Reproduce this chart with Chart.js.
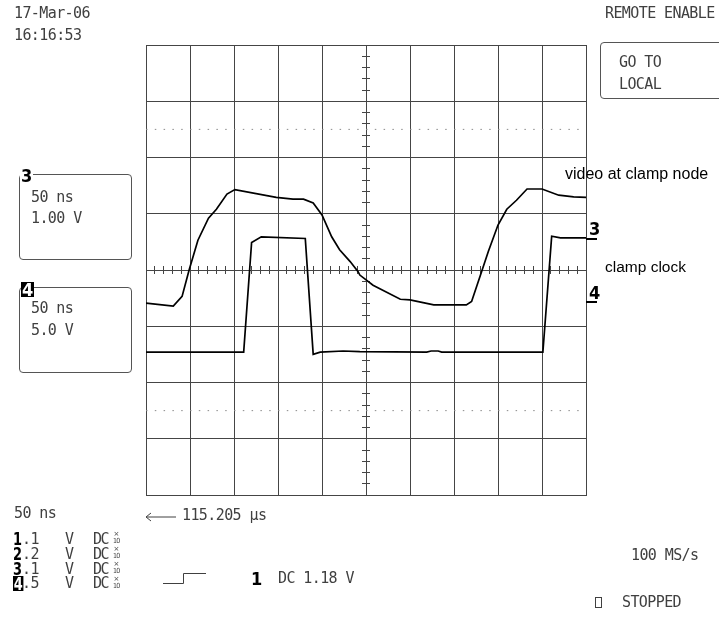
<!DOCTYPE html>
<html>
<head>
<meta charset="utf-8">
<script src="https://cdn.jsdelivr.net/npm/chart.js@4/dist/chart.umd.min.js"></script>
<style>
  html, body { margin: 0; padding: 0; background: #fff; }
  #wrap { position: relative; width: 719px; height: 619px; overflow: hidden; background: #fff; }
  #c { position: absolute; left: 0; top: 0; }
  .t { position: absolute; font-family: "DejaVu Sans Mono", monospace; font-size: 15px; line-height: 15px;
       letter-spacing: -0.6px; color: #404040; white-space: pre; }
  .b { position: absolute; font-family: "Liberation Sans Narrow", "DejaVu Sans Condensed", sans-serif; font-weight: bold;
       font-size: 18px; line-height: 14px; color: #000; white-space: pre; transform-origin: left top; }
  .n { transform: scaleX(0.8); }
  .inv { background: #000; color: #fff; padding: 0 1px; }
  .box { position: absolute; border: 1px solid #555; border-radius: 4px; }
  .ann { position: absolute; font-family: "Liberation Sans", Arial, sans-serif; color: #000; white-space: pre; }
  .xs { position: absolute; font-family: "DejaVu Sans", sans-serif; font-size: 7px; line-height: 7px; color: #404040; }
  .xn { position: absolute; font-family: "DejaVu Sans Condensed", sans-serif; font-size: 7px; line-height: 7px; color: #404040; letter-spacing: -0.8px; }
</style>
</head>
<body>
<div id="wrap">
  <canvas id="c" width="719" height="619"></canvas>

  <div class="t" style="left:14px; top:6px;">17-Mar-06</div>
  <div class="t" style="left:14px; top:28px;">16:16:53</div>
  <div class="t" style="left:605px; top:6px;">REMOTE ENABLE</div>

  <div class="box" style="left:600px; top:42px; width:124px; height:55px;"></div>
  <div class="t" style="left:619px; top:55px;">GO TO</div>
  <div class="t" style="left:619px; top:77px;">LOCAL</div>

  <div class="box" style="left:19px; top:174px; width:111px; height:84px;"></div>
  <div class="b" style="left:20px; top:168px; background:#fff; line-height:16px; padding:0 1px;">3</div>
  <div class="t" style="left:31px; top:190px;">50 ns</div>
  <div class="t" style="left:31px; top:211px;">1.00 V</div>

  <div class="box" style="left:19px; top:287px; width:111px; height:84px;"></div>
  <div class="b inv" style="left:21px; top:282px; line-height:15px;">4</div>
  <div class="t" style="left:31px; top:301px;">50 ns</div>
  <div class="t" style="left:31px; top:323px;">5.0 V</div>

  <div class="ann" style="left:565px; top:166px; font-size:16px; line-height:16px;">video at clamp node</div>
  <div class="ann" style="left:605px; top:259px; font-size:15.5px; line-height:16px;">clamp clock</div>

  <div class="b" style="left:589px; top:222px;">3</div>
  <div style="position:absolute; left:586px; top:238px; width:11px; height:2px; background:#000;"></div>
  <div class="b" style="left:589px; top:286px;">4</div>
  <div style="position:absolute; left:586px; top:301px; width:11px; height:2px; background:#000;"></div>

  <div class="t" style="left:14px; top:506px;">50 ns</div>
  <svg style="position:absolute; left:143px; top:510px;" width="36" height="14">
    <line x1="3" y1="7" x2="33" y2="7" stroke="#404040" stroke-width="1"/>
    <polyline points="8,3 3,7 8,11" fill="none" stroke="#404040" stroke-width="1"/>
  </svg>
  <div class="t" style="left:182px; top:508px;">115.205 µs</div>

  <div class="b n" style="left:13px; top:532px;">1</div>
  <div class="t" style="left:22px; top:532px;">.1</div>
  <div class="t" style="left:65px; top:532px;">V</div>
  <div class="t" style="left:93px; top:532px; letter-spacing:-1.5px;">DC</div>
  <div class="xs" style="left:113.5px; top:531px;">×</div>
  <div class="xn" style="left:113px; top:538px;">10</div>

  <div class="b n" style="left:13px; top:547px;">2</div>
  <div class="t" style="left:22px; top:547px;">.2</div>
  <div class="t" style="left:65px; top:547px;">V</div>
  <div class="t" style="left:93px; top:547px; letter-spacing:-1.5px;">DC</div>
  <div class="xs" style="left:113.5px; top:546px;">×</div>
  <div class="xn" style="left:113px; top:553px;">10</div>

  <div class="b n" style="left:13px; top:562px; text-decoration:underline;">3</div>
  <div class="t" style="left:22px; top:562px;">.1</div>
  <div class="t" style="left:65px; top:562px;">V</div>
  <div class="t" style="left:93px; top:562px; letter-spacing:-1.5px;">DC</div>
  <div class="xs" style="left:113.5px; top:561px;">×</div>
  <div class="xn" style="left:113px; top:568px;">10</div>

  <div class="b inv n" style="left:13px; top:576px; line-height:15px;">4</div>
  <div class="t" style="left:22px; top:576px;">.5</div>
  <div class="t" style="left:65px; top:576px;">V</div>
  <div class="t" style="left:93px; top:576px; letter-spacing:-1.5px;">DC</div>
  <div class="xs" style="left:113.5px; top:576px;">×</div>
  <div class="xn" style="left:113px; top:583px;">10</div>

  <svg style="position:absolute; left:160px; top:570px;" width="50" height="16">
    <polyline points="3,13.5 23.5,13.5 23.5,3.5 46,3.5" fill="none" stroke="#404040" stroke-width="1"/>
  </svg>
  <div class="b" style="left:251px; top:572px;">1</div>
  <div class="t" style="left:278px; top:571px;">DC 1.18 V</div>

  <div class="t" style="left:631px; top:548px;">100 MS/s</div>
  <div style="position:absolute; left:595px; top:597px; width:5px; height:9px; border:1px solid #404040;"></div>
  <div class="t" style="left:622px; top:595px;">STOPPED</div>
</div>

<script>
// ---- data (time in ns, level in screen divisions) ----
const videoTime  = [-250, -219, -209, -201, -191, -179, -170, -158, -149, -102, -83, -71, -60, -50, -39, -30, -18, -9, -7,
                    8, 39, 50, 77, 114, 120, 132, 139, 150, 160, 171, 183, 200, 219, 236, 250];
const videoLevel = [-0.59, -0.64, -0.47, 0, 0.53, 0.92, 1.08, 1.35, 1.43, 1.29, 1.26, 1.26, 1.19, 0.98, 0.59, 0.36, 0.15, -0.03, -0.09,
                    -0.27, -0.52, -0.53, -0.62, -0.62, -0.56, 0, 0.33, 0.80, 1.08, 1.24, 1.44, 1.44, 1.33, 1.30, 1.29];
const clockTime  = [-250, -139, -130, -119, -69, -60, -52, -26, -7, 69, 74, 82, 86, 201, 211, 221, 250];
const clockLevel = [-1.46, -1.46, 0.49, 0.59, 0.56, -1.50, -1.46, -1.44, -1.45, -1.46, -1.44, -1.44, -1.46, -1.46, 0.60, 0.57, 0.57];
const dottedLevels = [2.5, -2.5];
const timeRange = [-250, 250];
const divRange = [-4, 4];
const timePerDiv = 50;
const minorTime = 10;
const minorDiv = 0.2;

const pts = (xs, ys) => xs.map((x, i) => ({ x: x, y: ys[i] }));
const GRID = '#454545';
const zeroW = s => { s.width = 0; };
const zeroH = s => { s.height = 0; };

const datasets = [];
dottedLevels.forEach(v => {
  datasets.push({
    data: [{ x: timeRange[0], y: v }, { x: timeRange[1], y: v }],
    borderColor: '#8a8a8a', borderWidth: 1, borderDash: [1.5, 7.3], pointRadius: 0, showLine: true
  });
});
datasets.push({ label: 'video at clamp node', data: pts(videoTime, videoLevel),
  borderColor: '#000', borderWidth: 1.7, pointRadius: 0, showLine: true, tension: 0 });
datasets.push({ label: 'clamp clock', data: pts(clockTime, clockLevel),
  borderColor: '#000', borderWidth: 1.7, pointRadius: 0, showLine: true, tension: 0 });

new Chart(document.getElementById('c'), {
  type: 'scatter',
  data: { datasets: datasets },
  options: {
    responsive: false, animation: false, devicePixelRatio: 1,
    layout: { padding: { left: 146, top: 45, right: 133, bottom: 124 } },
    plugins: { legend: { display: false }, tooltip: { enabled: false } },
    scales: {
      x: { type: 'linear', min: timeRange[0], max: timeRange[1],
           ticks: { display: false, stepSize: timePerDiv },
           grid: { color: GRID, lineWidth: 1, drawTicks: false },
           border: { display: true, color: GRID, width: 1 },
           afterFit: zeroH },
      y: { type: 'linear', min: divRange[0], max: divRange[1],
           ticks: { display: false, stepSize: 1 },
           grid: { color: GRID, lineWidth: 1, drawTicks: false },
           border: { display: true, color: GRID, width: 1 },
           afterFit: zeroW },
      xMinor: { type: 'linear', axis: 'x', min: timeRange[0], max: timeRange[1], position: { y: 4 / 56.25 },
           ticks: { display: false, stepSize: minorTime },
           grid: { color: GRID, lineWidth: 1, drawOnChartArea: false, drawTicks: true, tickLength: 8 },
           border: { display: false },
           afterFit: zeroH },
      yMinor: { type: 'linear', axis: 'y', min: divRange[0], max: divRange[1], position: { x: 4 * 50 / 44 },
           ticks: { display: false, stepSize: minorDiv },
           grid: { color: GRID, lineWidth: 1, drawOnChartArea: false, drawTicks: true, tickLength: 8 },
           border: { display: false },
           afterFit: zeroW }
    }
  }
});
</script>
</body>
</html>
